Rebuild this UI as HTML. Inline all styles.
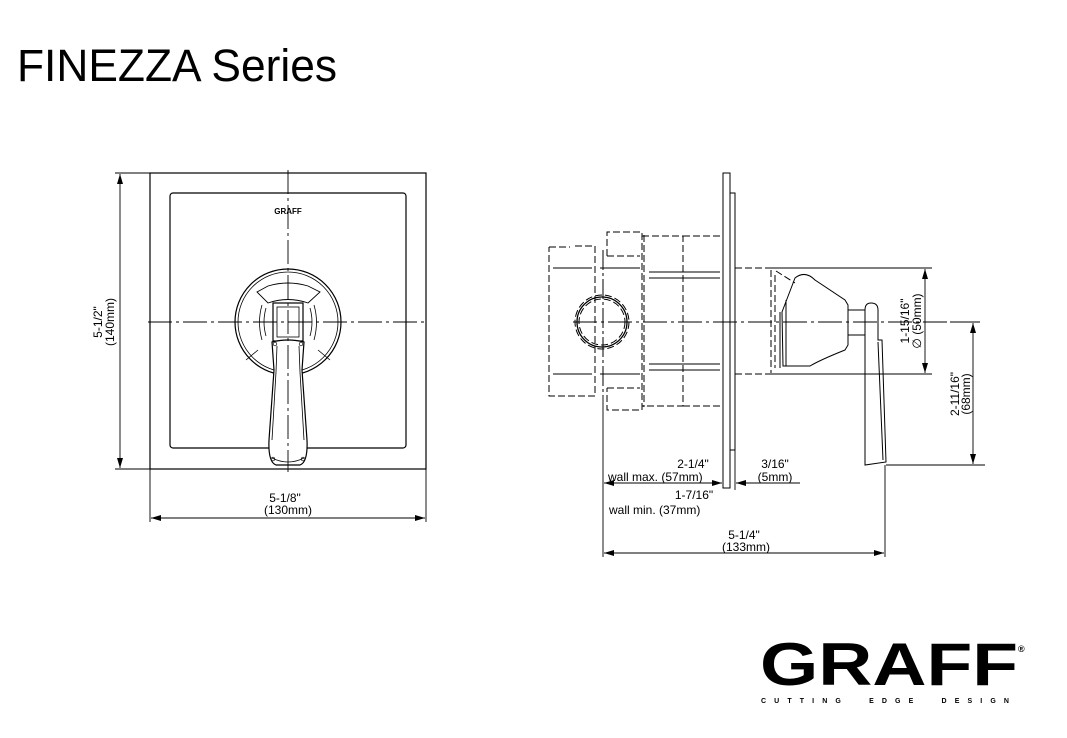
<!DOCTYPE html>
<html><head><meta charset="utf-8"><style>
html,body{margin:0;padding:0;background:#fff;width:1067px;height:738px;overflow:hidden}
svg{display:block}
text{font-family:"Liberation Sans",Arial,sans-serif;fill:#000}
</style></head><body>
<svg width="1067" height="738" viewBox="0 0 1067 738" xmlns="http://www.w3.org/2000/svg">
<defs>
<marker id="a" viewBox="0 0 10 6" refX="10" refY="3" markerWidth="10" markerHeight="6" orient="auto-start-reverse" markerUnits="userSpaceOnUse"><path d="M0,0 L10,3 L0,6 z" fill="#000"/></marker>
</defs>
<text x="17" y="81" font-size="45" textLength="320" lengthAdjust="spacingAndGlyphs">FINEZZA Series</text>

<!-- FRONT VIEW -->
<g fill="none" stroke="#000" stroke-width="1.2">
<rect x="150" y="173" width="276" height="296"/>
<rect x="170" y="193" width="236" height="255" rx="3"/>
<circle cx="288" cy="322" r="53"/>
<circle cx="288" cy="322" r="50" stroke-width="0.8"/>
<path d="M257,292 L268,286 Q288,280 308,286 L320,292 L308,303 Q288,296 268,303 Z" stroke-width="0.9"/>
<path d="M262,305 Q257,322 262,340 M314,305 Q319,322 314,340 M266,308 Q262,322 266,336 M310,308 Q314,322 310,336" stroke-width="0.8"/>
<path d="M258,350 L246,360 M318,350 L330,360" stroke-width="0.8"/>
<rect x="273" y="303" width="30" height="38" fill="#fff"/>
<rect x="277" y="307" width="22" height="30" stroke-width="0.8"/>
<path d="M272,342 Q288,338 304,342 L302,370 L307,440 Q308,462 300,465 L276,465 Q268,462 269,440 L274,370 Z" fill="#fff"/>
<path d="M277,346 L276,372 L272,440 M299,346 L300,372 L304,440 M272,458 Q288,466 304,458" stroke-width="0.8"/>
<circle cx="275" cy="344" r="1.8" stroke-width="0.7"/><circle cx="301" cy="344" r="1.8" stroke-width="0.7"/>
<circle cx="273" cy="459" r="1.8" stroke-width="0.7"/><circle cx="303" cy="459" r="1.8" stroke-width="0.7"/>
</g>
<text x="288" y="214" font-size="8" font-weight="bold" text-anchor="middle">GRAFF</text>
<g stroke="#000" stroke-width="0.9" fill="none">
<line x1="148" y1="322" x2="428" y2="322" stroke-dasharray="24,4,3,4"/>
<line x1="288" y1="170" x2="288" y2="472" stroke-dasharray="24,4,3,4"/>
<line x1="115" y1="173" x2="150" y2="173"/><line x1="115" y1="469" x2="150" y2="469"/>
<line x1="120" y1="174" x2="120" y2="468" marker-start="url(#a)" marker-end="url(#a)"/>
<line x1="150" y1="469" x2="150" y2="522"/><line x1="426" y1="469" x2="426" y2="522"/>
<line x1="151" y1="518" x2="425" y2="518" marker-start="url(#a)" marker-end="url(#a)"/>
</g>
<g font-size="12">
<text transform="translate(102,322) rotate(-90)" text-anchor="middle">5-1/2"</text>
<text transform="translate(114,322) rotate(-90)" text-anchor="middle">(140mm)</text>
<text x="285" y="502" text-anchor="middle">5-1/8"</text>
<text x="288" y="514" text-anchor="middle">(130mm)</text>
</g>

<!-- SIDE VIEW -->
<g fill="none" stroke="#000" stroke-width="1">
<g stroke-dasharray="7,3">
<path d="M549,247 L570,247 M575,246 L595,246 L595,396 L549,396 L549,247"/>
<path d="M607,256 L607,232 L642,232 L642,410 L607,410 L607,388"/>
<path d="M607,256 L612,256 L640,256 M607,388 L640,388"/>
<line x1="644" y1="235" x2="644" y2="407"/>
<path d="M642,236 L683,236 L683,406 L642,406"/>
<line x1="683" y1="236" x2="723" y2="236"/><line x1="683" y1="406" x2="723" y2="406"/>
<line x1="735" y1="268" x2="770" y2="268"/><line x1="735" y1="374" x2="770" y2="374"/>
<line x1="771" y1="270" x2="771" y2="373"/><line x1="775" y1="275" x2="775" y2="368"/>
<path d="M776,271 L795,283"/>
<circle cx="602" cy="322" r="27"/>
<circle cx="602" cy="322" r="23"/>
</g>
<line x1="603" y1="250" x2="603" y2="396" stroke-dasharray="20,3,3,3"/>
<line x1="553" y1="268" x2="592" y2="268"/><line x1="600" y1="268" x2="640" y2="268"/>
<line x1="553" y1="374" x2="592" y2="374"/><line x1="600" y1="374" x2="640" y2="374"/>
<line x1="649" y1="272" x2="720" y2="272"/><line x1="649" y1="278" x2="720" y2="278"/>
<line x1="649" y1="364" x2="720" y2="364"/><line x1="649" y1="370" x2="720" y2="370"/>
<circle cx="602" cy="322" r="25" stroke-width="1.3"/>
<rect x="723" y="173" width="7" height="315"/>
<rect x="730" y="193" width="5" height="257"/>
<path d="M782,312 L795,278 Q805,270 815,280 L845,300 L848,305 L848,345 L845,350 Q820,360 810,366 L783,366 L782,312 Z"/>
<path d="M780,312 L780,368 M786,300 L786,366"/>
<path d="M848,310 L865,310 M848,335 L865,335"/>
<path d="M865,310 Q865,303 871,303 Q878,303 878,310 L878,340 L882,340 L886,462 L865,465 L865,340 Z"/>
<path d="M878,342 L883,460"/>
<line x1="770" y1="268" x2="932" y2="268"/><line x1="770" y1="374" x2="932" y2="374"/>
</g>
<g stroke="#000" stroke-width="0.9" fill="none">
<line x1="573" y1="322" x2="950" y2="322" stroke-dasharray="24,4,3,4"/>
<line x1="950" y1="322" x2="980" y2="322"/>
<line x1="886" y1="465" x2="985" y2="465"/>
<line x1="925" y1="269" x2="925" y2="373" marker-start="url(#a)" marker-end="url(#a)"/>
<line x1="973" y1="323" x2="973" y2="464" marker-start="url(#a)" marker-end="url(#a)"/>
<line x1="603" y1="396" x2="603" y2="557"/>
<line x1="735" y1="450" x2="735" y2="490"/>
<line x1="885" y1="465" x2="885" y2="557"/>
<line x1="604" y1="483" x2="722" y2="483" marker-start="url(#a)" marker-end="url(#a)"/>
<line x1="736" y1="483" x2="800" y2="483" marker-start="url(#a)"/>
<line x1="604" y1="553" x2="884" y2="553" marker-start="url(#a)" marker-end="url(#a)"/>
</g>
<g font-size="12">
<text transform="translate(909,321) rotate(-90)" text-anchor="middle">1-15/16"</text>
<text transform="translate(921,321) rotate(-90)" text-anchor="middle">∅ (50mm)</text>
<text transform="translate(959,394) rotate(-90)" text-anchor="middle">2-11/16"</text>
<text transform="translate(970,394) rotate(-90)" text-anchor="middle">(68mm)</text>
<text x="693" y="468" text-anchor="middle">2-1/4"</text>
<text x="608" y="481">wall max. (57mm)</text>
<text x="775" y="468" text-anchor="middle">3/16"</text>
<text x="775" y="481" text-anchor="middle">(5mm)</text>
<text x="694" y="499" text-anchor="middle">1-7/16"</text>
<text x="609" y="514">wall min. (37mm)</text>
<text x="744" y="539" text-anchor="middle">5-1/4"</text>
<text x="746" y="551" text-anchor="middle">(133mm)</text>
</g>

<!-- LOGO -->
<text x="760" y="685" font-size="60" font-weight="bold" textLength="258" lengthAdjust="spacingAndGlyphs">GRAFF</text>
<text x="1018" y="652" font-size="9" font-weight="bold">®</text>
<text x="761" y="703" font-size="7" font-weight="bold" style="white-space:pre" textLength="248" lengthAdjust="spacing">C U T T I N G     E D G E     D E S I G N</text>
</svg>
</body></html>
